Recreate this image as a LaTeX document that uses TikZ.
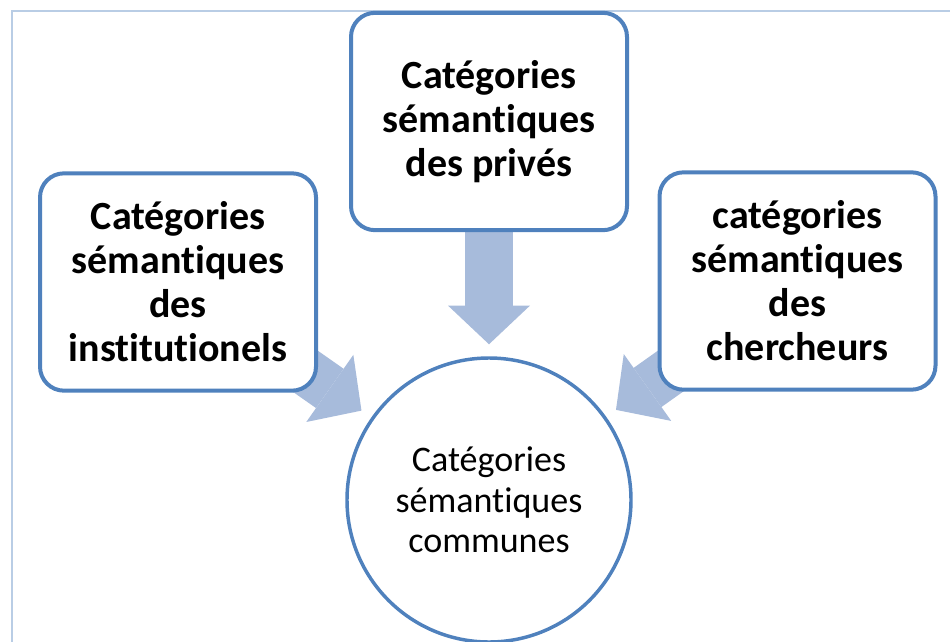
\documentclass[tikz,border=0pt]{standalone}
\usepackage{fontspec}
\setmainfont{Carlito}[Ligatures=NoCommon]
\usepackage{tikz}
\usetikzlibrary{arrows.meta, backgrounds}
\definecolor{boxline}{RGB}{79,129,189}
\definecolor{arrowfill}{RGB}{167,187,219}
\definecolor{framecolor}{RGB}{185,205,229}
\tikzset{
    catblock/.style={
        rectangle,
        rounded corners=18pt,
        draw=boxline,
        line width=3pt,
        fill=white,
        align=center,
        inner sep=0pt,
        minimum width=207pt,
        minimum height=163pt,
        font=\fontsize{30}{33}\selectfont\bfseries
    },
    commoncircle/.style={
        circle,
        draw=boxline,
        line width=2.6pt,
        fill=white,
        align=center,
        inner sep=0pt,
        minimum size=213pt,
        font=\fontsize{27}{30.5}\selectfont
    },
    widearrow/.style={
        draw=arrowfill,
        line width=36pt,
        shorten >=9pt,
        -{Triangle[width=61.5pt, length=29pt, line width=0pt]}
    },
    framebox/.style={
        draw=framecolor,
        line width=1.3pt
    }
}

\begin{document}
\begin{tikzpicture}[x=0.75pt, y=-0.75pt]
\useasboundingbox (0,0) rectangle (950,642);

% Outer frame
\draw[framebox] (12,700) |- (1000,11);

% Category boxes
\node[commoncircle] (common_circ) at (489,500) {Catégories\\sémantiques\\communes};
\node[catblock] (priv_box) at (489,121.5) {Catégories\\sémantiques\\des privés};
\node[catblock] (inst_box) at (178,282) {Catégories\\sémantiques\\des\\institutionels};
\node[catblock] (cherch_box) at (797.5,281) {catégories\\sémantiques\\des\\chercheurs};

% Arrows towards the common categories
\begin{scope}[on background layer]
\draw[widearrow] (priv_box.center) -- (common_circ);
\draw[widearrow] (inst_box.center) -- (common_circ);
\draw[widearrow] (cherch_box.center) -- (common_circ);
\end{scope}

\end{tikzpicture}
\end{document}
